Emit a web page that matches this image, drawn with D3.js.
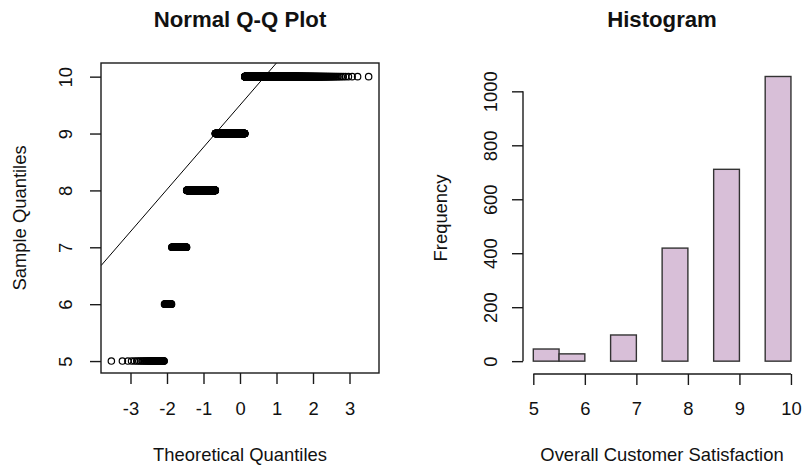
<!DOCTYPE html>
<html>
<head>
<meta charset="utf-8">
<script src="https://cdn.jsdelivr.net/npm/d3@7/dist/d3.min.js"></script>
<style>
  html, body { margin: 0; padding: 0; background: #fff; }
  svg { display: block; }
  text { font-family: "Liberation Sans", Arial, sans-serif; fill: #111; }
</style>
</head>
<body>
<svg id="chart" width="802" height="467"></svg>
<script>
// Customer satisfaction ratings and how many respondents gave each
const ratings = [5, 6, 7, 8, 9, 10];
const ratingCounts = [45, 27, 97, 419, 711, 1055];

// Histogram bins (width 0.5) and their frequencies
const binStarts = [5, 5.5, 6, 6.5, 7, 7.5, 8, 8.5, 9, 9.5];
const binCounts = [45, 27, 0, 97, 0, 419, 0, 711, 0, 1055];

// Tick labels
const qqXTicks = [-3, -2, -1, 0, 1, 2, 3];
const qqYTicks = [5, 6, 7, 8, 9, 10];
const histXTicks = [5, 6, 7, 8, 9, 10];
const histYTicks = [0, 200, 400, 600, 800, 1000];

// Inverse standard normal CDF (Acklam's rational approximation)
function qnorm(p) {
  const a = [-3.969683028665376e+01, 2.209460984245205e+02, -2.759285104469687e+02,
             1.383577518672690e+02, -3.066479806614716e+01, 2.506628277459239e+00];
  const b = [-5.447609879822406e+01, 1.615858368580409e+02, -1.556989798598866e+02,
             6.680131188771972e+01, -1.328068155327215e+01];
  const c = [-7.784894002430293e-03, -3.223964580411365e-01, -2.400758277161838e+00,
             -2.549732539343734e+00, 4.374664141464968e+00, 2.938163982698783e+00];
  const d = [7.784695709041462e-03, 3.224671290700398e-01, 2.445134137142996e+00,
             3.754408661907416e+00];
  const pl = 0.02425, ph = 1 - pl;
  let q, r;
  if (p < pl) {
    q = Math.sqrt(-2 * Math.log(p));
    return (((((c[0]*q+c[1])*q+c[2])*q+c[3])*q+c[4])*q+c[5]) /
           ((((d[0]*q+d[1])*q+d[2])*q+d[3])*q+1);
  } else if (p <= ph) {
    q = p - 0.5; r = q * q;
    return (((((a[0]*r+a[1])*r+a[2])*r+a[3])*r+a[4])*r+a[5])*q /
           (((((b[0]*r+b[1])*r+b[2])*r+b[3])*r+b[4])*r+1);
  } else {
    q = Math.sqrt(-2 * Math.log(1 - p));
    return -(((((c[0]*q+c[1])*q+c[2])*q+c[3])*q+c[4])*q+c[5]) /
            ((((d[0]*q+d[1])*q+d[2])*q+d[3])*q+1);
  }
}

// Sorted sample expanded from the rating counts
const sample = [];
ratings.forEach((r, k) => { for (let j = 0; j < ratingCounts[k]; j++) sample.push(r); });
const n = sample.length;
const qqPoints = sample.map((v, i) => ({ x: qnorm((i + 1 - 0.5) / n), y: v }));

// Reference line through the first and third quartiles
function quantile7(arr, p) {
  const h = (arr.length - 1) * p, lo = Math.floor(h), hi = Math.ceil(h);
  return arr[lo] + (h - lo) * (arr[hi] - arr[lo]);
}
const q1 = quantile7(sample, 0.25), q3 = quantile7(sample, 0.75);
const slope = (q3 - q1) / (qnorm(0.75) - qnorm(0.25));
const intercept = q1 - slope * qnorm(0.25);

const svg = d3.select("#chart");
svg.append("rect").attr("width", 802).attr("height", 467).attr("fill", "#fff");

const FS = 18.4;
const INK = "#1a1a1a";

// ---------- Normal Q-Q plot ----------
const L = { left: 101, right: 379, top: 63, bottom: 373 };
const qx = d3.scaleLinear().domain([-3.808, 3.808]).range([L.left, L.right]);
const qy = d3.scaleLinear().domain([4.79, 10.24]).range([L.bottom, L.top]);

svg.append("defs").append("clipPath").attr("id", "qqclip")
  .append("rect").attr("x", L.left).attr("y", L.top)
  .attr("width", L.right - L.left).attr("height", L.bottom - L.top);

const qq = svg.append("g");
qq.append("g").selectAll("circle").data(qqPoints).join("circle")
  .attr("cx", d => qx(d.x)).attr("cy", d => qy(d.y)).attr("r", 3.2)
  .attr("fill", "none").attr("stroke", "#000").attr("stroke-width", 1.2);

const xl0 = qx.domain()[0], xl1 = qx.domain()[1];
qq.append("line").attr("clip-path", "url(#qqclip)")
  .attr("x1", qx(xl0)).attr("y1", qy(intercept + slope * xl0))
  .attr("x2", qx(xl1)).attr("y2", qy(intercept + slope * xl1))
  .attr("stroke", "#000").attr("stroke-width", 1);

qq.append("rect").attr("x", L.left).attr("y", L.top)
  .attr("width", L.right - L.left).attr("height", L.bottom - L.top)
  .attr("fill", "none").attr("stroke", INK).attr("stroke-width", 1.4);

const qxAxis = qq.append("g").attr("transform", `translate(0,${L.bottom})`)
  .call(d3.axisBottom(qx).tickValues(qqXTicks).tickSize(11)
    .tickFormat(d => String(d)));
qxAxis.select(".domain").remove();
qxAxis.selectAll(".tick line").attr("stroke", INK).attr("stroke-width", 1.4);
qxAxis.selectAll(".tick text").attr("font-size", FS).attr("font-family", null)
  .attr("y", null).attr("dy", null).attr("transform", "translate(0,42)");

const qyAxis = qq.append("g").attr("transform", `translate(${L.left},0)`)
  .call(d3.axisLeft(qy).tickValues(qqYTicks).tickSize(11).tickFormat(d => String(d)));
qyAxis.select(".domain").remove();
qyAxis.selectAll(".tick line").attr("stroke", INK).attr("stroke-width", 1.4);
qyAxis.selectAll(".tick text").attr("font-size", FS).attr("font-family", null)
  .attr("x", null).attr("dy", null).attr("text-anchor", "middle")
  .attr("transform", `translate(${72 - L.left},0) rotate(-90)`);

qq.append("text").attr("x", (L.left + L.right) / 2).attr("y", 27)
  .attr("text-anchor", "middle").attr("font-size", 22.2).attr("font-weight", "bold")
  .text("Normal Q-Q Plot");
qq.append("text").attr("x", (L.left + L.right) / 2).attr("y", 461)
  .attr("text-anchor", "middle").attr("font-size", FS).text("Theoretical Quantiles");
qq.append("text").attr("transform", `translate(26,${(L.top + L.bottom) / 2}) rotate(-90)`)
  .attr("text-anchor", "middle").attr("font-size", FS).text("Sample Quantiles");

// ---------- Histogram ----------
const R = { left: 523, right: 801, top: 63, bottom: 373 };
const hx = d3.scaleLinear().domain([4.8, 10.195]).range([R.left, R.right]);
const hy = d3.scaleLinear().domain([-43.9, 1105]).range([R.bottom, R.top]);

const hist = svg.append("g");
hist.append("g").selectAll("rect").data(binStarts.map((s, i) => ({ s, c: binCounts[i] })))
  .join("rect")
  .attr("x", d => hx(d.s)).attr("width", d => hx(d.s + 0.5) - hx(d.s))
  .attr("y", d => hy(d.c)).attr("height", d => hy(0) - hy(d.c))
  .attr("fill", "#d8bfd8").attr("stroke", "#333").attr("stroke-width", 1.4);

const hxAxis = hist.append("g").attr("transform", `translate(0,374)`)
  .call(d3.axisBottom(hx).tickValues(histXTicks).tickSizeOuter(0).tickSize(11)
    .tickFormat(d3.format("d")));
hxAxis.select(".domain").attr("stroke", INK).attr("stroke-width", 1.4)
  .attr("d", `M${hx(5)},0H${hx(10)}`);
hxAxis.selectAll(".tick line").attr("stroke", INK).attr("stroke-width", 1.4);
hxAxis.selectAll(".tick text").attr("font-size", FS).attr("font-family", null)
  .attr("y", null).attr("dy", null).attr("transform", "translate(0,41)");

const hyAxis = hist.append("g").attr("transform", `translate(${R.left},0)`)
  .call(d3.axisLeft(hy).tickValues(histYTicks).tickSize(11).tickFormat(d3.format("d")));
hyAxis.select(".domain").attr("stroke", INK).attr("stroke-width", 1.4)
  .attr("d", `M0,${hy(0)}V${hy(1000)}`);
hyAxis.selectAll(".tick line").attr("stroke", INK).attr("stroke-width", 1.4);
hyAxis.selectAll(".tick text").attr("font-size", FS).attr("font-family", null)
  .attr("x", null).attr("dy", null).attr("text-anchor", "middle")
  .attr("transform", `translate(${496.5 - R.left},0) rotate(-90)`);

hist.append("text").attr("x", (R.left + R.right) / 2).attr("y", 27)
  .attr("text-anchor", "middle").attr("font-size", 22.2).attr("font-weight", "bold")
  .text("Histogram");
hist.append("text").attr("x", (R.left + R.right) / 2).attr("y", 461)
  .attr("text-anchor", "middle").attr("font-size", FS).text("Overall Customer Satisfaction");
hist.append("text").attr("transform", `translate(447,${(R.top + R.bottom) / 2}) rotate(-90)`)
  .attr("text-anchor", "middle").attr("font-size", FS).text("Frequency");
</script>
</body>
</html>
